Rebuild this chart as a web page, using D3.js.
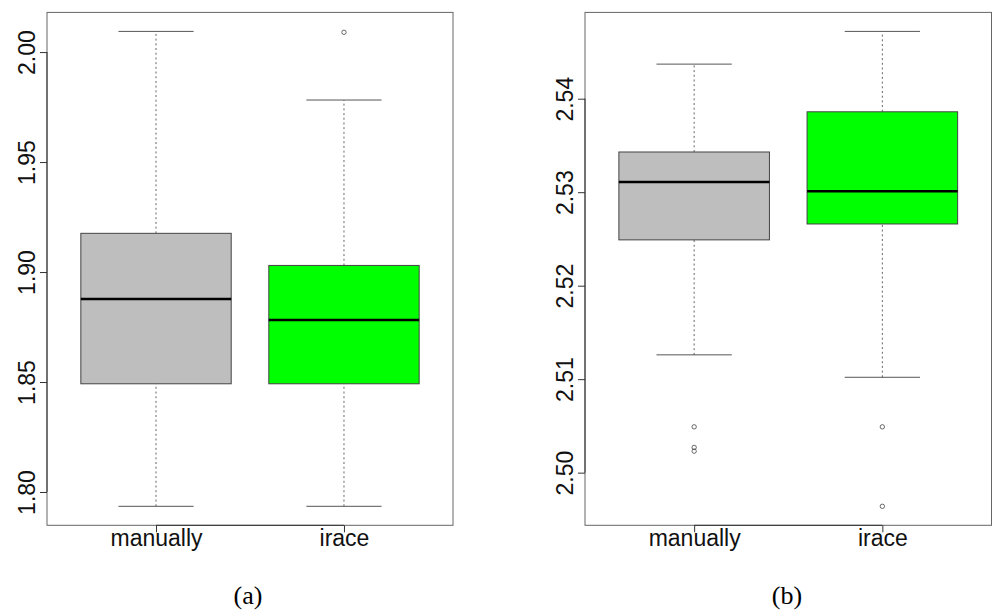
<!DOCTYPE html>
<html>
<head>
<meta charset="utf-8">
<script src="https://cdn.jsdelivr.net/npm/d3@7"></script>
<style>
  body { margin: 0; background: #fff; }
  svg { display: block; }
</style>
</head>
<body>
<script>
// groups on the x axis
var groups = ["manually", "irace"];
var fills = ["#BEBEBE", "#00FF00"];

// panel (a): [lower whisker, Q1, median, Q3, upper whisker] per group
var statsA = [[1.7935, 1.8492, 1.8877, 1.9176, 2.0094],
              [1.7935, 1.8492, 1.8782, 1.9030, 1.9782]];
var outliersA = [[], [2.0090]];
var ticksA = [1.80, 1.85, 1.90, 1.95, 2.00];

// panel (b)
var statsB = [[2.5126, 2.5249, 2.5311, 2.5343, 2.5437],
              [2.5102, 2.5266, 2.5301, 2.5386, 2.5472]];
var outliersB = [[2.5049, 2.5027, 2.5023], [2.5049, 2.4964]];
var ticksB = [2.50, 2.51, 2.52, 2.53, 2.54];

var w = 992;
var h = 612;

var svg = d3.select("body").append("svg")
  .attr("width", w)
  .attr("height", h);

function makePanel(left, right, stats, outliers, ticks, caption, capX) {
  var top = 12.4, bottom = 525.3;
  var g = svg.append("g");

  // R style range: data extent padded by 4%
  var all = d3.merge(stats.concat(outliers));
  var lo = d3.min(all), hi = d3.max(all), pad = (hi - lo) * 0.04;
  var y = d3.scaleLinear().domain([lo - pad, hi + pad]).range([bottom, top]);
  var x = d3.scaleLinear().domain([0.42, 2.58]).range([left, right]);

  // frame
  g.append("rect")
    .attr("x", left).attr("y", top)
    .attr("width", right - left).attr("height", bottom - top)
    .attr("fill", "none").attr("stroke", "#666").attr("stroke-width", 1);

  // boxes
  stats.forEach(function(s, i) {
    var cx = x(i + 1);
    var bw = x(1.4) - x(1);
    var cw = x(1.2) - x(1);
    // whiskers
    g.append("line").attr("x1", cx).attr("x2", cx).attr("y1", y(s[0])).attr("y2", y(s[1]))
      .attr("stroke", "#666").attr("stroke-dasharray", "2,2.7");
    g.append("line").attr("x1", cx).attr("x2", cx).attr("y1", y(s[3])).attr("y2", y(s[4]))
      .attr("stroke", "#666").attr("stroke-dasharray", "2,2.7");
    // caps
    [s[0], s[4]].forEach(function(v) {
      g.append("line").attr("x1", cx - cw).attr("x2", cx + cw).attr("y1", y(v)).attr("y2", y(v))
        .attr("stroke", "#555").attr("stroke-width", 1);
    });
    g.append("rect")
      .attr("x", cx - bw).attr("y", y(s[3]))
      .attr("width", bw * 2).attr("height", y(s[1]) - y(s[3]))
      .attr("fill", fills[i]).attr("stroke", "#444").attr("stroke-width", 1);
    g.append("line").attr("x1", cx - bw).attr("x2", cx + bw).attr("y1", y(s[2])).attr("y2", y(s[2]))
      .attr("stroke", "#000").attr("stroke-width", 2.5);
    // outliers
    g.selectAll(null).data(outliers[i]).enter().append("circle")
      .attr("cx", cx).attr("cy", function(d) { return y(d); })
      .attr("r", 2.2)
      .attr("fill", "none").attr("stroke", "#444").attr("stroke-width", 0.8);
  });

  // y axis
  var yAxis = g.append("g")
    .attr("transform", "translate(" + left + ",0)")
    .call(d3.axisLeft(y).tickValues(ticks).tickSize(7).tickFormat(d3.format(".2f")));
  yAxis.select(".domain").remove();
  yAxis.selectAll(".tick line").attr("stroke", "#333");
  yAxis.selectAll(".tick text")
    .attr("x", null).attr("dy", null)
    .attr("transform", "translate(-12,0) rotate(-90)")
    .attr("text-anchor", "middle")
    .attr("fill", "#111")
    .style("font-family", "'Liberation Sans', Arial, sans-serif")
    .style("font-size", "23px");
  g.append("line")
    .attr("x1", left).attr("x2", left)
    .attr("y1", y(ticks[0])).attr("y2", y(ticks[ticks.length - 1]))
    .attr("stroke", "#333");

  // x axis
  var xAxis = g.append("g")
    .attr("transform", "translate(0," + bottom + ")")
    .call(d3.axisBottom(x).tickValues([1, 2]).tickSize(7)
      .tickFormat(function(d) { return groups[d - 1]; }));
  xAxis.select(".domain").remove();
  xAxis.selectAll(".tick line").attr("stroke", "#333");
  xAxis.selectAll(".tick text")
    .attr("y", 21).attr("dy", null)
    .attr("fill", "#111")
    .style("font-family", "'Liberation Sans', Arial, sans-serif")
    .style("font-size", "23px");
  g.append("line")
    .attr("x1", x(1)).attr("x2", x(2))
    .attr("y1", bottom).attr("y2", bottom)
    .attr("stroke", "#333");

  // caption
  svg.append("text")
    .attr("x", capX).attr("y", 604)
    .attr("text-anchor", "middle")
    .style("font-family", "'Liberation Serif', 'DejaVu Serif', serif")
    .style("font-size", "26px")
    .text(caption);
}

makePanel(47, 453, statsA, outliersA, ticksA, "(a)", 248);
makePanel(585, 991.5, statsB, outliersB, ticksB, "(b)", 787);
</script>
</body>
</html>
